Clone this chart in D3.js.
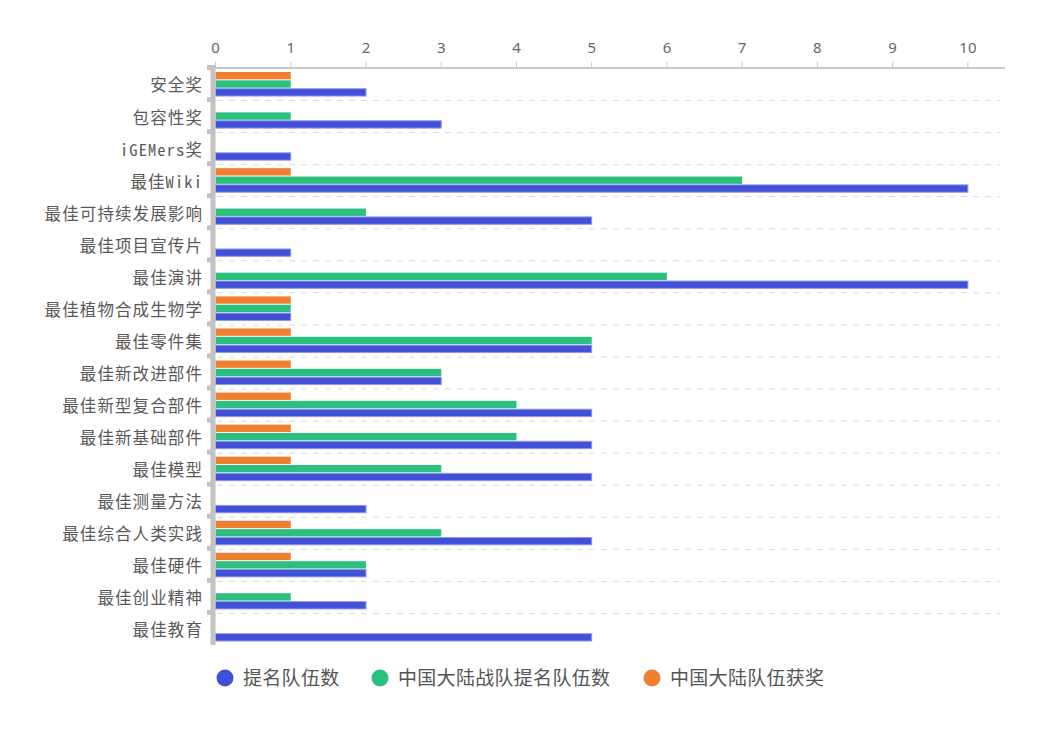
<!DOCTYPE html>
<html><head><meta charset="utf-8">
<script src="https://cdn.jsdelivr.net/npm/d3@7/dist/d3.min.js"></script>
<style>
html,body{margin:0;padding:0;background:#fff;}
svg{display:block;}
</style>
</head><body>
<svg id="chart" width="1042" height="736"></svg>
<script>
const categories = ["安全奖","包容性奖","iGEMers奖","最佳Wiki","最佳可持续发展影响","最佳项目宣传片","最佳演讲","最佳植物合成生物学","最佳零件集","最佳新改进部件","最佳新型复合部件","最佳新基础部件","最佳模型","最佳测量方法","最佳综合人类实践","最佳硬件","最佳创业精神","最佳教育"];
const nominated = [2,3,1,10,5,1,10,1,5,3,5,5,5,2,5,2,2,5];
const chinaNominated = [1,1,0,7,2,0,6,1,5,3,4,4,3,0,3,2,1,0];
const chinaAwarded = [1,0,0,1,0,0,0,1,1,1,1,1,1,0,1,1,0,0];
const seriesNames = ["提名队伍数","中国大陆战队提名队伍数","中国大陆队伍获奖"];
const xTicks = [0,1,2,3,4,5,6,7,8,9,10];

const colors = {"提名队伍数":"#4050D8","中国大陆战队提名队伍数":"#2CC07E","中国大陆队伍获奖":"#F07F30"};
const seriesValues = {"提名队伍数":nominated,"中国大陆战队提名队伍数":chinaNominated,"中国大陆队伍获奖":chinaAwarded};
const drawOrder = ["中国大陆队伍获奖","中国大陆战队提名队伍数","提名队伍数"];

const svg = d3.select("#chart");
const mLeft = 215, mRight = 1005, mTop = 68, mBottom = 645;
const x = d3.scaleLinear().domain([0,10.5]).range([mLeft,mRight]);
const y = d3.scaleBand().domain(categories).range([mTop,mBottom]).padding(0);
const sub = d3.scaleBand().domain(drawOrder).range([4, y.bandwidth()-4]).paddingInner(0.12);

const labelFont = "'Noto Sans Mono CJK SC','Noto Sans CJK SC',sans-serif";

// gridlines (band boundaries)
svg.append("g").selectAll("line").data(categories.slice(1)).join("line")
  .attr("x1", mLeft+2).attr("x2", 1000)
  .attr("y1", d=>y(d)+0.5).attr("y2", d=>y(d)+0.5)
  .attr("stroke","#dcdcdc").attr("stroke-width",1).attr("stroke-dasharray","6,6");

// top x axis
const xAxis = svg.append("g").attr("transform",`translate(0,${mTop})`)
  .call(d3.axisTop(x).tickValues(xTicks).tickSize(6).tickPadding(9).tickFormat(d3.format("d")));
xAxis.select(".domain").attr("stroke","#c8c8c8").attr("stroke-width",2).attr("d",`M${mLeft-2},0H${mRight}`);
xAxis.selectAll(".tick line").attr("stroke","#c8c8c8");
xAxis.selectAll(".tick text").attr("fill","#666").style("font-size","15px").style("font-family","'Noto Sans',sans-serif");

// bars
const rows = categories.map((c,i)=>({cat:c,i}));
drawOrder.forEach(s=>{
  svg.append("g").selectAll("rect").data(rows.filter(r=>seriesValues[s][r.i]>0)).join("rect")
    .attr("x", x(0)+0.5)
    .attr("y", r=>y(r.cat)+sub(s))
    .attr("width", r=>x(seriesValues[s][r.i])-x(0))
    .attr("height", sub.bandwidth())
    .attr("fill", colors[s])
    .attr("stroke", s==="提名队伍数" ? "#8e98ea" : "none")
    .attr("stroke-width", 1);
});

// left axis
const yAxis = svg.append("g").attr("transform",`translate(${mLeft-1},0)`)
  .call(d3.axisLeft(y).tickSize(0).tickPadding(11));
yAxis.select(".domain").attr("stroke","#c3c3c3").attr("stroke-width",5).attr("d",`M-1,${mTop-3}V${mBottom}`);
yAxis.selectAll(".tick text").attr("fill","#595959").attr("dy","0.45em").style("font-size","16.5px").style("letter-spacing","1.1px").style("font-family",labelFont);
// boundary ticks
svg.append("g").selectAll("rect").data(categories).join("rect")
  .attr("x", mLeft-8).attr("width",6)
  .attr("y", d=>y(d)-3).attr("height",5)
  .attr("fill","#c3c3c3");

// legend
const legendPos = [{s:"提名队伍数",cx:225},{s:"中国大陆战队提名队伍数",cx:380},{s:"中国大陆队伍获奖",cx:652}];
const lg = svg.append("g");
legendPos.forEach(p=>{
  lg.append("circle").attr("cx",p.cx).attr("cy",678).attr("r",8.5).attr("fill",colors[p.s]);
  lg.append("text").attr("x",p.cx+18).attr("y",678).attr("dy","0.35em")
    .attr("fill","#555").style("font-size","19px").style("letter-spacing","0.3px").style("font-family","'Noto Sans CJK SC',sans-serif")
    .text(p.s);
});
</script>
</body></html>
